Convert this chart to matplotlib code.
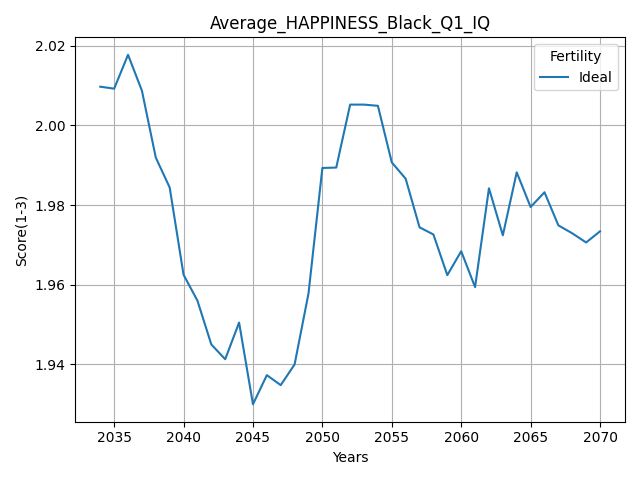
import matplotlib
matplotlib.use("Agg")
import matplotlib.pyplot as plt

years = list(range(2034, 2071))
ideal = [2.0097, 2.0092, 2.0177, 2.0087, 1.9919, 1.9844, 1.9625, 1.9560, 1.9450, 1.9413,
         1.9505, 1.9300, 1.9373, 1.9348, 1.9400, 1.9578, 1.9893, 1.9894, 2.0052, 2.0052,
         2.0049, 1.9907, 1.9866, 1.9744, 1.9726, 1.9624, 1.9684, 1.9594, 1.9842, 1.9724,
         1.9882, 1.9795, 1.9832, 1.9749, 1.9729, 1.9706, 1.9734]

fig, ax = plt.subplots(figsize=(6.4, 4.8), dpi=100)
ax.plot(years, ideal, label="Ideal")
ax.set_title("Average_HAPPINESS_Black_Q1_IQ")
ax.set_xlabel("Years")
ax.set_ylabel("Score(1-3)")
ax.grid(True)
ax.legend(title="Fertility", loc="upper right")
fig.tight_layout()
fig.savefig("out.png")
